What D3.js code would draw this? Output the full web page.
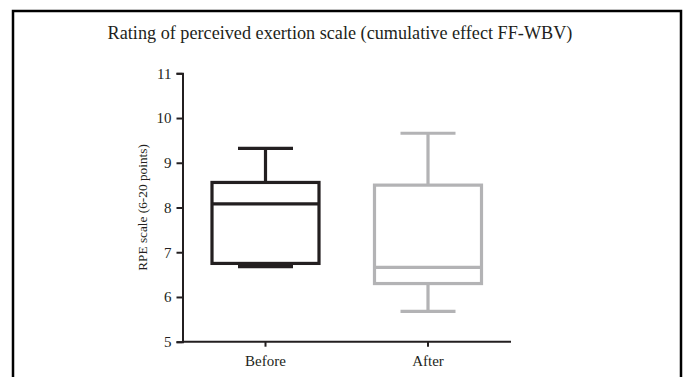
<!DOCTYPE html>
<html>
  <head>
    <script src="https://d3js.org/d3.v7.min.js"></script>
    <style>
      body { margin: 0; background: #fff; }
      svg text { font-family: "Liberation Serif", "Times New Roman", serif; fill: #231f20; }
    </style>
  </head>
  <body>
    <div id="chart"></div>
    <script>
      const groups = ["Before", "After"];
      const mins = [6.68, 5.68];
      const q1s = [6.75, 6.3];
      const medians = [8.08, 6.66];
      const q3s = [8.56, 8.5];
      const maxs = [9.32, 9.66];
      const colors = ["#231f20", "#b3b3b5"];
      const yTicks = [5, 6, 7, 8, 9, 10, 11];

      const width = 683, height = 377;
      const svg = d3.select("#chart").append("svg")
        .attr("width", width).attr("height", height);

      // outer frame (no bottom edge visible)
      svg.append("path")
        .attr("d", "M13,377V11H681V377")
        .attr("fill", "none").attr("stroke", "#000").attr("stroke-width", 2.5);

      svg.append("text")
        .attr("x", 340).attr("y", 39)
        .attr("text-anchor", "middle")
        .attr("font-size", 18.2)
        .text("Rating of perceived exertion scale (cumulative effect FF-WBV)");

      const x = d3.scalePoint().domain(groups).range([265.5, 428]).padding(0);
      const y = d3.scaleLinear().domain([5, 11]).range([341.7, 73.3]);

      const yAxis = svg.append("g")
        .attr("transform", "translate(182.5,0)")
        .call(d3.axisLeft(y).tickValues(yTicks).tickFormat(d3.format("d")).tickSize(6).tickPadding(5));
      yAxis.select(".domain").attr("stroke", "#231f20").attr("stroke-width", 2);
      yAxis.selectAll(".tick line").attr("stroke", "#231f20").attr("stroke-width", 2);
      yAxis.selectAll(".tick text").attr("font-size", 15);

      const xAxis = svg.append("g")
        .attr("transform", "translate(0,341.7)");
      xAxis.append("line")
        .attr("x1", 182.5).attr("x2", 511)
        .attr("stroke", "#231f20").attr("stroke-width", 2);
      xAxis.selectAll(".xt").data(groups).enter().append("line")
        .attr("x1", d => x(d)).attr("x2", d => x(d))
        .attr("y1", 0).attr("y2", 5)
        .attr("stroke", "#231f20").attr("stroke-width", 2);
      xAxis.selectAll(".xl").data(groups).enter().append("text")
        .attr("x", d => x(d)).attr("y", 24)
        .attr("text-anchor", "middle").attr("font-size", 15)
        .text(d => d);

      svg.append("text")
        .attr("transform", "translate(147," + y(8) + ") rotate(-90)")
        .attr("text-anchor", "middle")
        .attr("font-size", 13.3)
        .text("RPE scale (6-20 points)");

      const boxW = 107, capW = 55;
      const boxes = svg.selectAll(".box").data(groups).enter().append("g")
        .attr("stroke", (d, i) => colors[i])
        .attr("stroke-width", 3.2)
        .attr("fill", "none");

      boxes.append("line")
        .attr("x1", d => x(d)).attr("x2", d => x(d))
        .attr("y1", (d, i) => y(maxs[i])).attr("y2", (d, i) => y(q3s[i]));
      boxes.append("line")
        .attr("x1", d => x(d)).attr("x2", d => x(d))
        .attr("y1", (d, i) => y(q1s[i])).attr("y2", (d, i) => y(mins[i]));
      boxes.append("line")
        .attr("x1", d => x(d) - capW / 2).attr("x2", d => x(d) + capW / 2)
        .attr("y1", (d, i) => y(maxs[i])).attr("y2", (d, i) => y(maxs[i]));
      boxes.append("line")
        .attr("x1", d => x(d) - capW / 2).attr("x2", d => x(d) + capW / 2)
        .attr("y1", (d, i) => y(mins[i])).attr("y2", (d, i) => y(mins[i]));
      boxes.append("rect")
        .attr("x", d => x(d) - boxW / 2).attr("width", boxW)
        .attr("y", (d, i) => y(q3s[i]))
        .attr("height", (d, i) => y(q1s[i]) - y(q3s[i]));
      boxes.append("line")
        .attr("x1", d => x(d) - boxW / 2).attr("x2", d => x(d) + boxW / 2)
        .attr("y1", (d, i) => y(medians[i])).attr("y2", (d, i) => y(medians[i]));
    </script>
  </body>
</html>
